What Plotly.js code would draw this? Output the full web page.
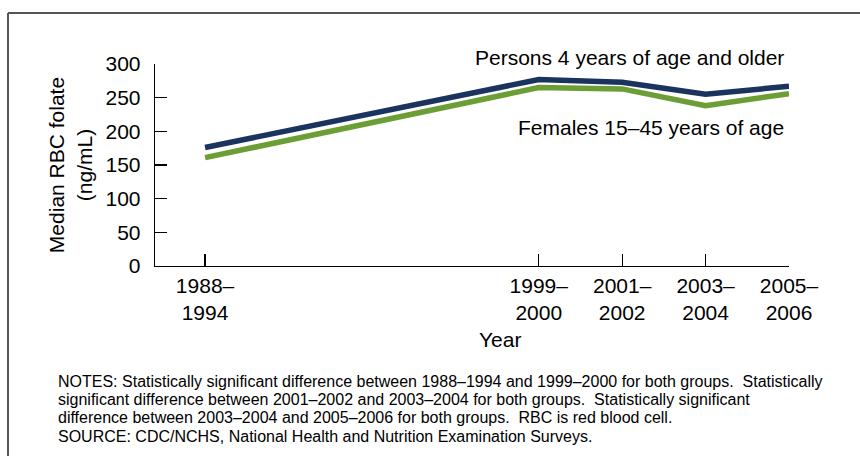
<!DOCTYPE html>
<html>
<head>
<meta charset="utf-8">
<script src="https://cdn.plot.ly/plotly-3.0.1.min.js"></script>
<style>
html,body{margin:0;padding:0;background:#fff;}
#chart{width:860px;height:456px;}
</style>
</head>
<body>
<div id="chart"></div>
<script>
// Survey periods (x positions are period midpoints used as numeric coordinates)
const periods = ["1988–1994", "1999–2000", "2001–2002", "2003–2004", "2005–2006"];
const periodX = [1991.5, 1999.5, 2001.5, 2003.5, 2005.5];
const tickLabels = ["1988–<br>1994", "1999–<br>2000", "2001–<br>2002", "2003–<br>2004", "2005–<br>2006"];
const persons4plus = [176, 277, 273, 255, 267];
const females15to45 = [161, 265, 263, 238, 256];
const yTicks = [0, 50, 100, 150, 200, 250, 300];
const noteLines = [
  "NOTES: Statistically significant difference between 1988–1994 and 1999–2000 for both groups.  Statistically",
  "significant difference between 2001–2002 and 2003–2004 for both groups.  Statistically significant",
  "difference between 2003–2004 and 2005–2006 for both groups.  RBC is red blood cell.",
  "SOURCE: CDC/NCHS, National Health and Nutrition Examination Surveys."
];

const W = 860, H = 456;
const L = 155, R = 71, T = 64, B = 190;
const pw = W - L - R, ph = H - T - B;
const px = v => (v - L) / pw;          // pixel x -> paper
const py = v => (H - B - v) / ph;      // pixel y -> paper

const font = "'Liberation Sans', Arial, Helvetica, sans-serif";

const traces = [
  {x: periodX, y: persons4plus, type: "scatter", mode: "lines", name: "Persons 4 years of age and older",
   line: {color: "#1b335f", width: 5.5}, hoverinfo: "skip"},
  {x: periodX, y: females15to45, type: "scatter", mode: "lines", name: "Females 15–45 years of age",
   line: {color: "#6b9e34", width: 5.5}, hoverinfo: "skip"}
];

const annotations = [
  {xref: "paper", yref: "paper", x: px(786), y: py(58), xanchor: "right", yanchor: "middle",
   text: "Persons 4 years of age and older", showarrow: false, font: {family: font, size: 21, color: "#000"}},
  {xref: "paper", yref: "paper", x: px(786), y: py(127), xanchor: "right", yanchor: "middle",
   text: "Females 15–45 years of age", showarrow: false, font: {family: font, size: 21, color: "#000"}},
  {xref: "paper", yref: "paper", x: px(500), y: py(339), xanchor: "center", yanchor: "middle",
   text: "Year", showarrow: false, font: {family: font, size: 21, color: "#000"}}
];
noteLines.forEach((t, i) => {
  annotations.push({xref: "paper", yref: "paper", x: px(56), y: py(381 + i * 18.35),
    xanchor: "left", yanchor: "middle", align: "left", text: t, showarrow: false,
    font: {family: font, size: 16, color: "#000"}});
});

const layout = {
  width: W, height: H,
  margin: {l: L, r: R, t: T, b: B, pad: 0},
  paper_bgcolor: "#fff", plot_bgcolor: "#fff",
  showlegend: false,
  font: {family: font, color: "#000", size: 21},
  xaxis: {
    range: [1990.3, 2005.5], tickmode: "array", tickvals: periodX, ticktext: tickLabels,
    ticks: "inside", ticklen: 12, tickwidth: 1.3, tickcolor: "#000",
    showline: true, linecolor: "#000", linewidth: 1.3, showgrid: false, zeroline: false,
    tickfont: {family: font, size: 21, color: "#000"}, fixedrange: true
  },
  yaxis: {
    range: [0, 300], tickmode: "array", tickvals: yTicks,
    ticks: "inside", ticklen: 12, tickwidth: 1.3, tickcolor: "#000", ticklabelstandoff: 9,
    showline: true, linecolor: "#000", linewidth: 1.3, showgrid: false, zeroline: false,
    tickfont: {family: font, size: 21, color: "#000"}, fixedrange: true,
    title: {text: "Median RBC folate<br>(ng/mL)", font: {family: font, size: 21, color: "#000"}, standoff: 7}
  },
  annotations: annotations,
  shapes: [
    {type: "line", xref: "paper", yref: "paper", x0: px(8), x1: px(870), y0: py(13), y1: py(13),
     line: {color: "#555", width: 2}},
    {type: "line", xref: "paper", yref: "paper", x0: px(8), x1: px(8), y0: py(13), y1: py(470),
     line: {color: "#555", width: 2}}
  ]
};

Plotly.newPlot("chart", traces, layout, {displayModeBar: false, staticPlot: true});
</script>
</body>
</html>
